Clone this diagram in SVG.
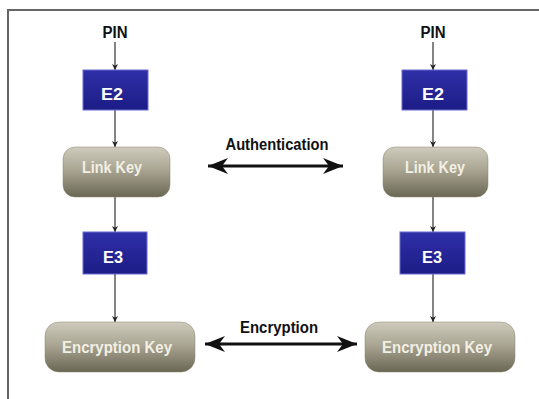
<svg xmlns="http://www.w3.org/2000/svg" width="539" height="399" viewBox="0 0 539 399">
<defs>
<linearGradient id="gray" x1="0" y1="0" x2="0" y2="1">
<stop offset="0" stop-color="#cfcbbd"/>
<stop offset="0.45" stop-color="#aaa693"/>
<stop offset="1" stop-color="#6b6755"/>
</linearGradient>
<linearGradient id="blue" x1="0" y1="0" x2="0" y2="1">
<stop offset="0" stop-color="#2f2fa8"/>
<stop offset="1" stop-color="#1c1c86"/>
</linearGradient>
<marker id="ah" viewBox="0 0 10 10" refX="10" refY="5" markerWidth="6" markerHeight="6" orient="auto" markerUnits="userSpaceOnUse">
<path d="M0,0 L10,5 L0,10 L3,5 z" fill="#222"/>
</marker>
<marker id="big" viewBox="0 0 20 16" refX="20" refY="8" markerWidth="20" markerHeight="16" orient="auto-start-reverse" markerUnits="userSpaceOnUse">
<path d="M0,0 L20,8 L0,16 L6,8 z" fill="#111"/>
</marker>
</defs>
<style>
text{font-family:"Liberation Sans",Arial,sans-serif;font-weight:bold;font-size:16px;text-anchor:middle}
.lbl{fill:#111}
.etxt{fill:#fff}
.ktxt{fill:#f2efe4}
.ebox{fill:url(#blue);stroke:#6a6ad0;stroke-width:1}
.kbox{fill:url(#gray);stroke:#8a8672;stroke-width:0.5}
.v{stroke:#333;stroke-width:1.2;fill:none;marker-end:url(#ah)}
.h{stroke:#111;stroke-width:3;fill:none;marker-start:url(#big);marker-end:url(#big)}
</style>
<rect width="539" height="399" fill="#fff"/>
<path d="M8,399 L8,10 L539,10" fill="none" stroke="#666" stroke-width="2"/>
<g id="connectors">
<line class="v" x1="115" y1="42" x2="115" y2="70"/>
<line class="v" x1="115" y1="110" x2="115" y2="147"/>
<line class="v" x1="115" y1="197" x2="115" y2="232"/>
<line class="v" x1="115" y1="274" x2="115" y2="322"/>
<line class="v" x1="433" y1="42" x2="433" y2="70"/>
<line class="v" x1="433" y1="110" x2="433" y2="147"/>
<line class="v" x1="433" y1="197" x2="433" y2="232"/>
<line class="v" x1="433" y1="274" x2="433" y2="322"/>
<line class="h" x1="208" y1="166" x2="343" y2="166"/>
<line class="h" x1="205" y1="344" x2="357" y2="344"/>
<text class="lbl" x="277" y="150" textLength="103" lengthAdjust="spacingAndGlyphs">Authentication</text>
<text class="lbl" x="279" y="333" textLength="78" lengthAdjust="spacingAndGlyphs">Encryption</text>
</g>
<g id="pin-left"><text class="lbl" x="115" y="38" textLength="25" lengthAdjust="spacingAndGlyphs">PIN</text></g>
<g id="pin-right"><text class="lbl" x="433" y="38" textLength="25" lengthAdjust="spacingAndGlyphs">PIN</text></g>
<g id="e2-left"><rect class="ebox" x="83" y="70" width="65" height="40"/><text class="etxt" x="112" y="100" textLength="22" lengthAdjust="spacingAndGlyphs">E2</text></g>
<g id="e2-right"><rect class="ebox" x="402" y="70" width="65" height="40"/><text class="etxt" x="433" y="100" textLength="22" lengthAdjust="spacingAndGlyphs">E2</text></g>
<g id="linkkey-left"><rect class="kbox" x="63" y="147" width="107" height="50" rx="12"/><text class="ktxt" x="112" y="173" textLength="60" lengthAdjust="spacingAndGlyphs">Link Key</text></g>
<g id="linkkey-right"><rect class="kbox" x="383" y="147" width="105" height="50" rx="12"/><text class="ktxt" x="435" y="173" textLength="60" lengthAdjust="spacingAndGlyphs">Link Key</text></g>
<g id="e3-left"><rect class="ebox" x="83" y="232" width="64" height="42"/><text class="etxt" x="113" y="263" textLength="20" lengthAdjust="spacingAndGlyphs">E3</text></g>
<g id="e3-right"><rect class="ebox" x="400" y="232" width="65" height="42"/><text class="etxt" x="432" y="263" textLength="20" lengthAdjust="spacingAndGlyphs">E3</text></g>
<g id="enckey-left"><rect class="kbox" x="45" y="322" width="150" height="50" rx="14"/><text class="ktxt" x="117" y="353" textLength="110" lengthAdjust="spacingAndGlyphs">Encryption Key</text></g>
<g id="enckey-right"><rect class="kbox" x="365" y="322" width="150" height="50" rx="14"/><text class="ktxt" x="437" y="353" textLength="110" lengthAdjust="spacingAndGlyphs">Encryption Key</text></g>
</svg>
